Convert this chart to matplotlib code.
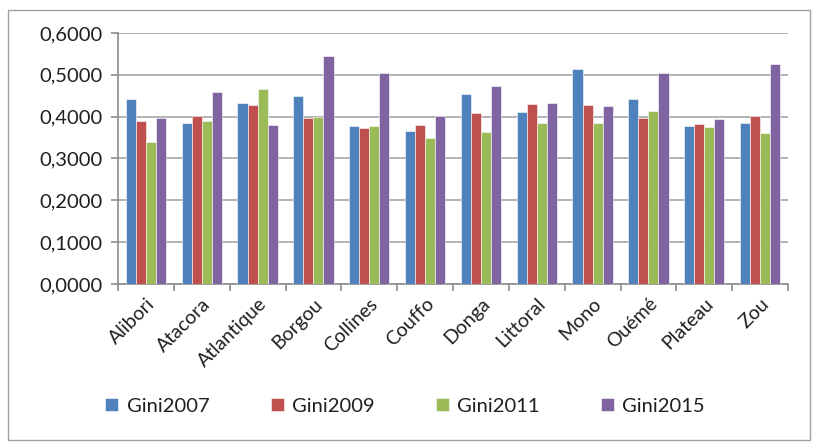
import matplotlib.pyplot as plt
import numpy as np
from matplotlib.patches import Rectangle
from matplotlib.ticker import FuncFormatter

plt.rcParams['font.family'] = ['Lato', 'DejaVu Sans']
plt.rcParams['text.color'] = '#1f1f1f'
plt.rcParams['xtick.labelcolor'] = '#1f1f1f'
plt.rcParams['ytick.labelcolor'] = '#1f1f1f'

regions = ['Alibori', 'Atacora', 'Atlantique', 'Borgou', 'Collines', 'Couffo',
           'Donga', 'Littoral', 'Mono', 'Ouémé', 'Plateau', 'Zou']
gini2007 = [0.442, 0.384, 0.432, 0.450, 0.378, 0.366, 0.454, 0.410, 0.514, 0.443, 0.378, 0.384]
gini2009 = [0.389, 0.402, 0.429, 0.398, 0.374, 0.379, 0.409, 0.430, 0.427, 0.397, 0.382, 0.402]
gini2011 = [0.340, 0.390, 0.466, 0.399, 0.378, 0.349, 0.364, 0.384, 0.386, 0.414, 0.376, 0.361]
gini2015 = [0.396, 0.458, 0.379, 0.546, 0.504, 0.402, 0.473, 0.433, 0.425, 0.505, 0.394, 0.526]

series = [('Gini2007', gini2007, '#4F81BD'),
          ('Gini2009', gini2009, '#C0504D'),
          ('Gini2011', gini2011, '#9BBB59'),
          ('Gini2015', gini2015, '#8064A2')]

fig = plt.figure(figsize=(8.14, 4.48), dpi=100)
ax = fig.add_axes([118 / 814, 1 - 284 / 448, 670 / 814, 251 / 448])

# outer chart border
fig.patches.append(Rectangle((8 / 814, 8 / 448), 802 / 814, 430 / 448,
                             transform=fig.transFigure, fill=False,
                             edgecolor='#a0a0a0', linewidth=1))

x = np.arange(len(regions))
w = 0.18
for i, (name, vals, col) in enumerate(series):
    ax.bar(x + (i - 1.5) * w, vals, w, color=col, label=name,
           edgecolor='white', linewidth=0.4, zorder=3)

ax.set_ylim(0, 0.6)
ax.set_xlim(-0.5, len(regions) - 0.5)
ax.set_yticks(np.arange(0, 0.61, 0.1))
ax.yaxis.set_major_formatter(FuncFormatter(lambda v, p: f'{v:.4f}'.replace('.', ',')))
ax.yaxis.grid(True, color='#a6a6a6', linewidth=1.2, zorder=0)
ax.set_xticks(np.arange(-0.5, len(regions), 1))
ax.set_xticklabels([])
ax.set_xticks(x, minor=True)
ax.set_xticklabels(regions, minor=True, rotation=45, ha='right',
                   rotation_mode='anchor', fontsize=14)
ax.tick_params(axis='x', which='minor', length=0, pad=8)
ax.tick_params(axis='x', which='major', length=5, color='#8c8c8c', width=1.2)
ax.tick_params(axis='y', length=5, color='#8c8c8c', width=1.2, labelsize=14.5, pad=6)

for s in ['top', 'right']:
    ax.spines[s].set_visible(False)
for s in ['left', 'bottom']:
    ax.spines[s].set_color('#8c8c8c')
    ax.spines[s].set_linewidth(1.2)

fig.legend(loc='center', bbox_to_anchor=(405 / 814, 1 - 406 / 448), ncol=4,
           frameon=False, fontsize=14.5, handlelength=0.65, handleheight=0.65,
           handletextpad=0.4, columnspacing=3.05)

fig.savefig('out.png', dpi=100)
